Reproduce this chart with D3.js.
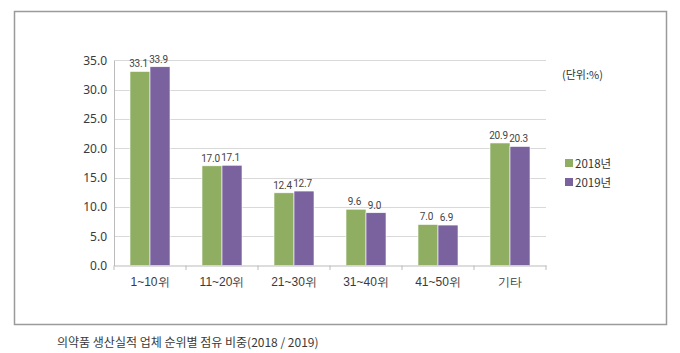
<!DOCTYPE html>
<html><head><meta charset="utf-8">
<script src="https://cdn.jsdelivr.net/npm/d3@7"></script>
<style>body{margin:0;background:#fff;}svg{display:block;font-family:"Noto Sans CJK KR","Noto Sans",sans-serif;}</style>
</head><body>
<svg id="c" width="680" height="353"></svg>
<script>
const categories = ["1~10위","11~20위","21~30위","31~40위","41~50위","기타"];
const series = ["2018년","2019년"];
const values2018 = [33.1,17.0,12.4,9.6,7.0,20.9];
const values2019 = [33.9,17.1,12.7,9.0,6.9,20.3];
const yTicks = [0,5,10,15,20,25,30,35];
const colors = ["#8fae62","#7a629e"];

const svg = d3.select("#c");
svg.append("rect").attr("x",14.5).attr("y",11.5).attr("width",652).attr("height",313)
  .attr("fill","#fff").attr("stroke","#9a9a9a").attr("stroke-width",1.5);

const x0 = d3.scaleBand().domain(categories).range([114,546]).paddingInner(0).paddingOuter(0);
const y = d3.scaleLinear().domain([0,35]).range([265.5,60.3]);
const x1 = d3.scaleBand().domain(series).range([16,56]);

// gridlines
svg.append("g").selectAll("line").data(yTicks.filter(d=>d>0)).join("line")
  .attr("x1",114).attr("x2",546).attr("y1",d=>Math.round(y(d))+0.5).attr("y2",d=>Math.round(y(d))+0.5)
  .attr("stroke","#d9d9d9").attr("stroke-width",1.2);

// y axis
const ya = svg.append("g").attr("transform","translate(114,0)")
  .call(d3.axisLeft(y).tickValues(yTicks).tickFormat(d3.format(".1f")).tickSize(0).tickPadding(7));
ya.select(".domain").attr("stroke","#bbb");
ya.selectAll("text").attr("font-size",12).attr("fill","#3a3a3a").attr("font-family","'Noto Sans',sans-serif");

const data = categories.map((c,i)=>({c, v:[values2018[i],values2019[i]]}));
const g = svg.append("g").selectAll("g").data(data).join("g")
  .attr("transform",d=>`translate(${x0(d.c)},0)`);
g.selectAll("rect").data(d=>d.v.map((v,j)=>({s:series[j],v,j}))).join("rect")
  .attr("x",d=>x1(d.s)).attr("width",x1.bandwidth()).attr("y",d=>y(d.v)).attr("height",d=>y(0)-y(d.v))
  .attr("fill",d=>colors[d.j]).attr("stroke","#ffffff").attr("stroke-width",0.6);
g.selectAll("text").data(d=>d.v.map((v,j)=>({s:series[j],v,j}))).join("text")
  .attr("x",d=>x1(d.s)+x1.bandwidth()/2-1.5).attr("y",d=>y(d.v)-4)
  .attr("text-anchor","middle").attr("font-size",10).attr("fill","#444")
  .attr("letter-spacing","-0.2")
  .attr("font-family","Roboto,sans-serif")
  .text(d=>d3.format(".1f")(d.v));

// x axis
const xa = svg.append("g").attr("transform","translate(0,265.5)")
  .call(d3.axisBottom(x0).tickSize(0).tickPadding(12));
xa.select(".domain").attr("stroke","#bbb");
xa.selectAll("text").attr("font-size",12).attr("fill","#3a3a3a");
svg.append("g").selectAll("line").data(d3.range(categories.length+1)).join("line")
  .attr("x1",i=>114+i*x0.bandwidth()).attr("x2",i=>114+i*x0.bandwidth())
  .attr("y1",265.5).attr("y2",270).attr("stroke","#bbb");

// unit
svg.append("text").attr("x",562).attr("y",79).attr("font-size",11).attr("fill","#333").text("(단위:%)");

// legend
const lg = svg.append("g").selectAll("g").data(series).join("g")
  .attr("transform",(d,i)=>`translate(565,${163+i*19})`);
lg.append("rect").attr("x",0).attr("y",-4).attr("width",8).attr("height",8).attr("fill",(d,i)=>colors[i]);
lg.append("text").attr("x",10).attr("y",4.5).attr("font-size",11.5).attr("fill","#333").text(d=>d);

// caption
svg.append("text").attr("x",57).attr("y",347).attr("font-size",12).attr("fill","#3a3a3a")
  .text("의약품 생산실적 업체 순위별 점유 비중(2018 / 2019)");
</script>
</body></html>
